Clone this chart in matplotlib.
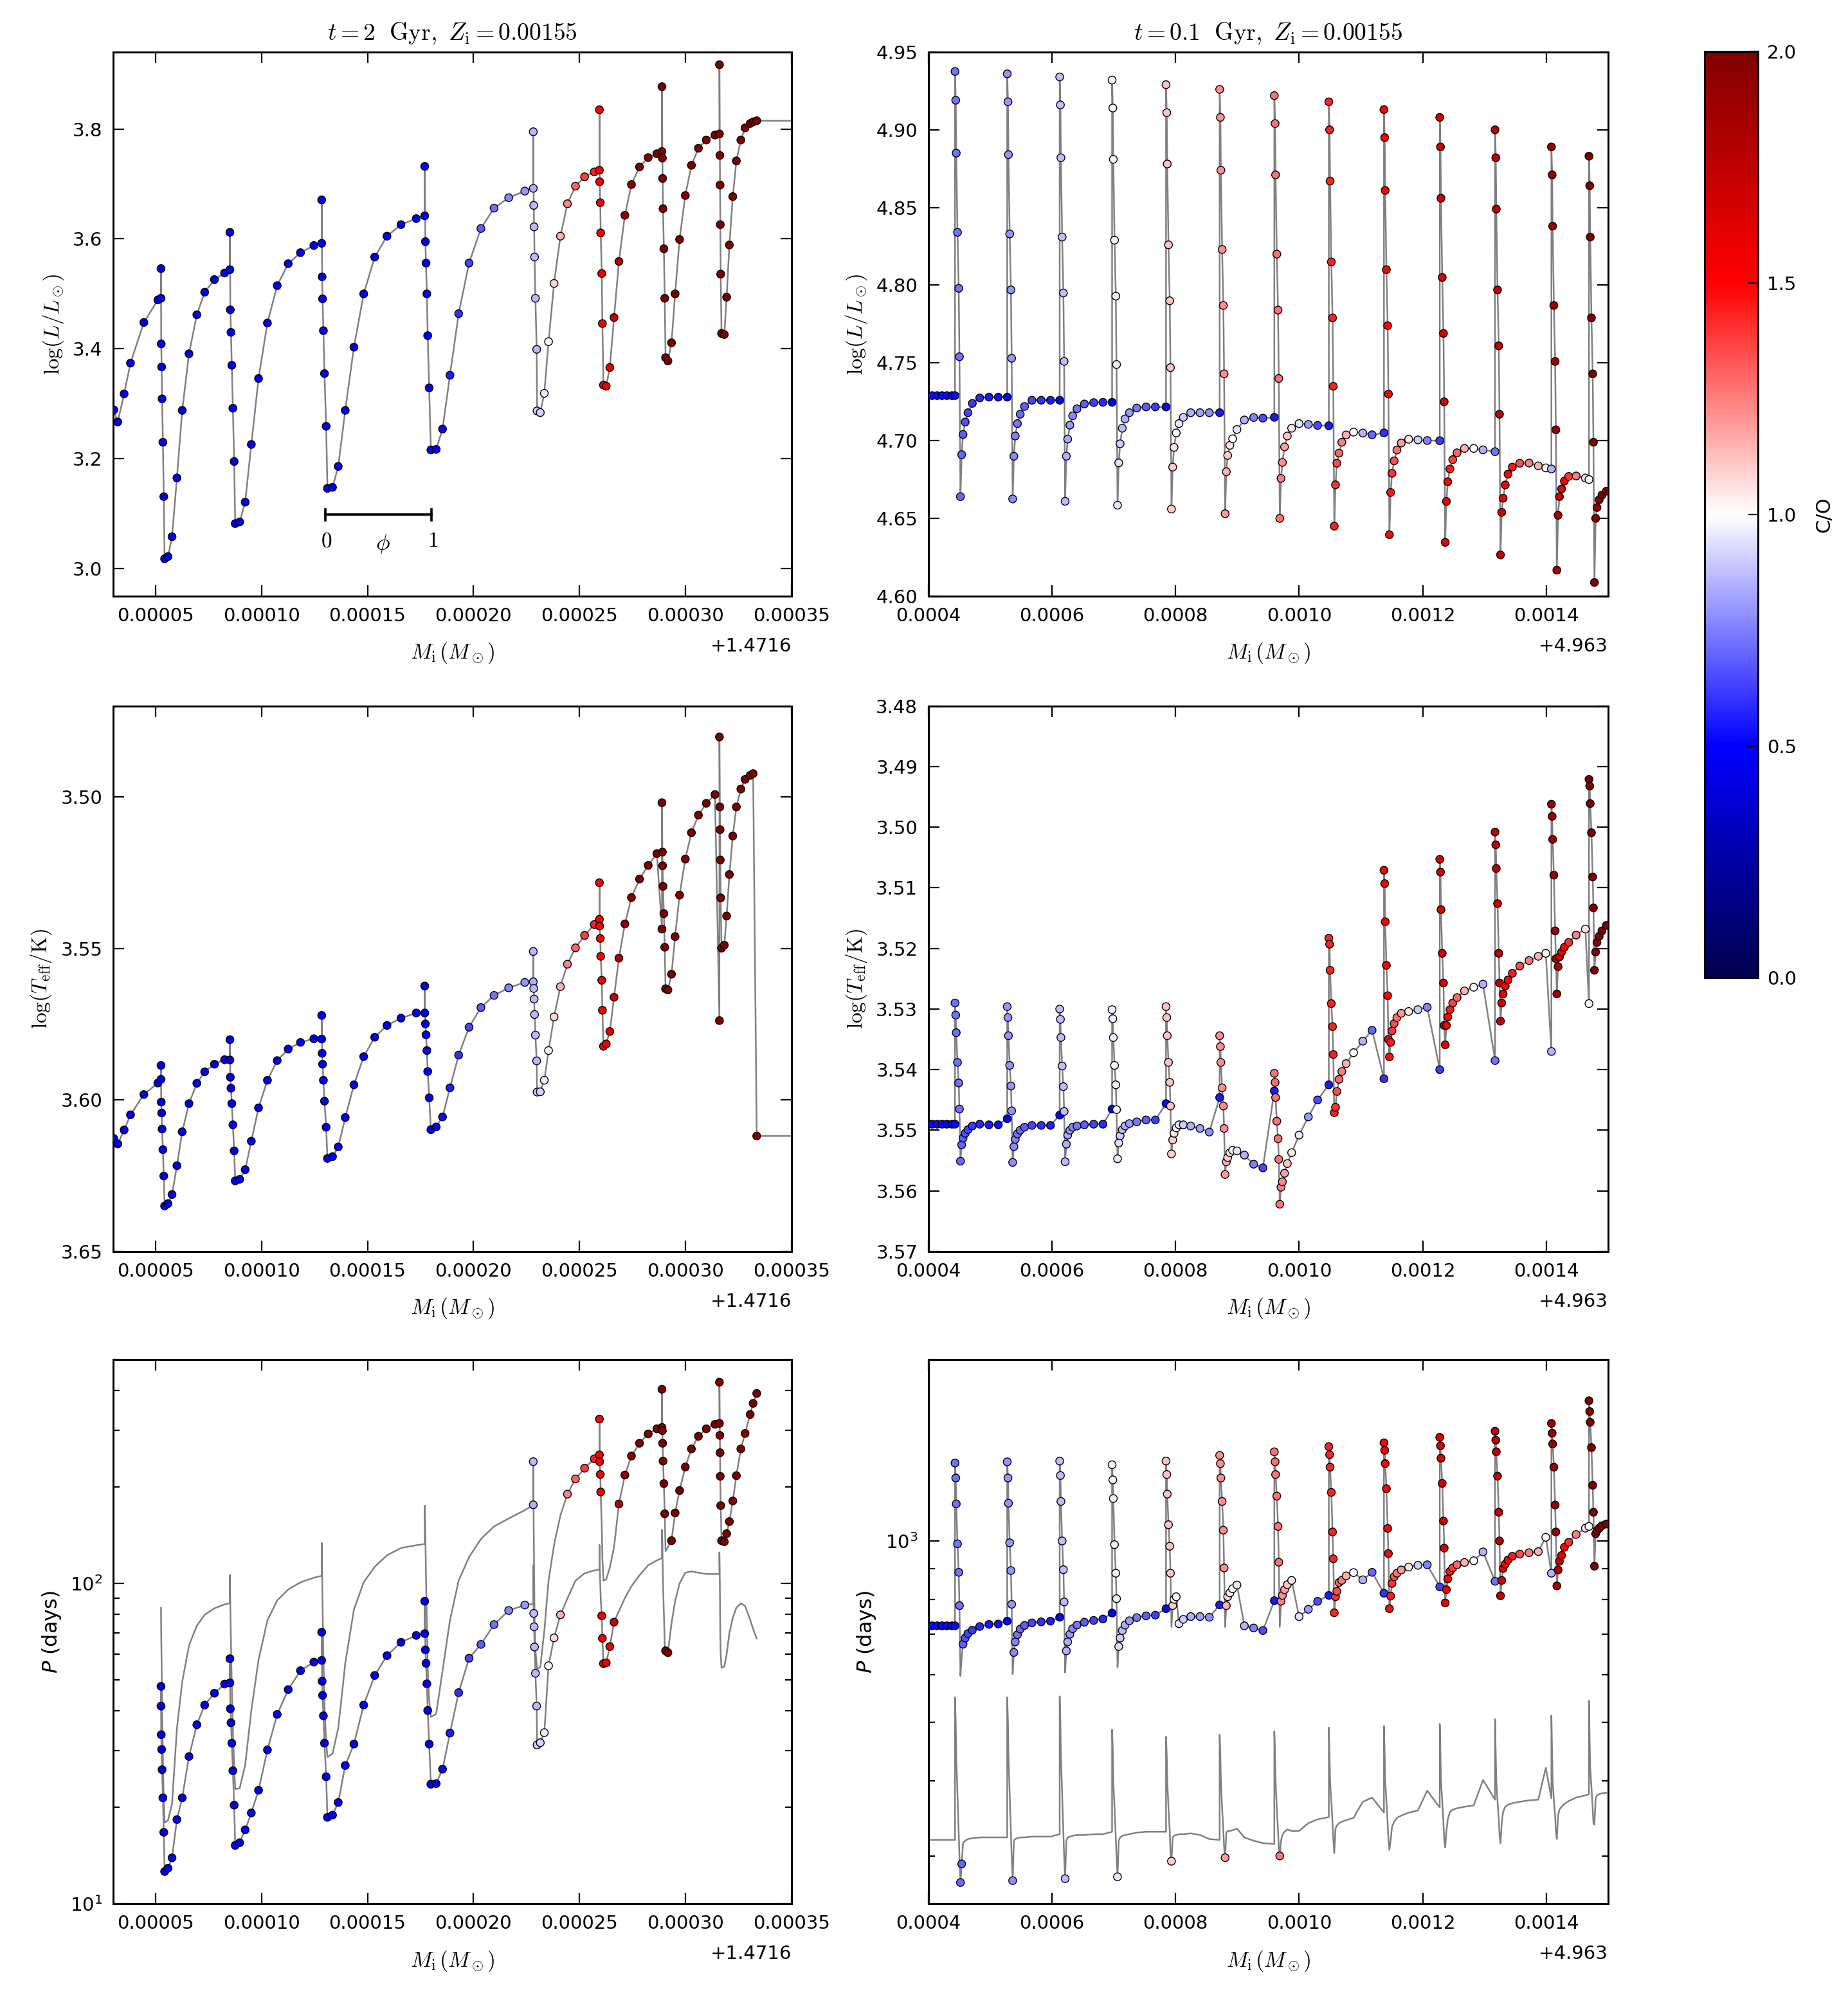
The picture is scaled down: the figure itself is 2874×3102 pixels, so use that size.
import numpy as np
import matplotlib.pyplot as plt
from matplotlib.ticker import FormatStrFormatter, NullFormatter
from matplotlib.cm import ScalarMappable
from matplotlib.colors import Normalize

plt.rcParams['font.family'] = ['DejaVu Sans']
plt.rcParams['mathtext.fontset'] = 'cm'
plt.rcParams['font.size'] = 10.5

# ---------------- left column: t = 2 Gyr, Mi - 1.4716 (units of 1e-5 Msun)
dm_l = [3.03, 3.22, 3.52, 3.82, 4.45, 5.11,
        5.26, 5.26, 5.27, 5.29, 5.31, 5.35, 5.39, 5.43, 5.59, 5.78, 6.01, 6.26, 6.58, 6.95, 7.32, 7.78, 8.26,
        8.51, 8.51, 8.53, 8.56, 8.60, 8.65, 8.71, 8.76, 8.97, 9.23, 9.52, 9.86, 10.28, 10.74, 11.26, 11.84, 12.47,
        12.84, 12.84, 12.86, 12.88, 12.92, 12.97, 13.05, 13.11, 13.35, 13.62, 13.95, 14.36, 14.82, 15.34, 15.92, 16.58, 17.30,
        17.70, 17.70, 17.73, 17.76, 17.80, 17.84, 17.91, 17.99, 18.24, 18.54, 18.89, 19.30, 19.79, 20.35, 20.97, 21.66, 22.42,
        22.82, 22.82, 22.84, 22.86, 22.88, 22.92, 22.98, 23.00, 23.15, 23.34, 23.54, 23.80, 24.10, 24.43, 24.81, 25.24, 25.70,
        25.94, 25.94, 25.95, 25.98, 26.00, 26.05, 26.08, 26.13, 26.26, 26.43, 26.63, 26.86, 27.14, 27.45, 27.83, 28.24, 28.65,
        28.89, 28.89, 28.91, 28.92, 28.94, 28.98, 29.02, 29.06, 29.17, 29.34, 29.51, 29.72, 29.99, 30.28, 30.61, 30.98, 31.39,
        31.60, 31.60, 31.62, 31.63, 31.64, 31.66, 31.70, 31.83, 31.94, 32.07, 32.23, 32.40, 32.61, 32.81, 33.05, 33.19, 33.36, 37.0]

logL_l = [3.289, 3.267, 3.318, 3.374, 3.448, 3.489,
          3.492, 3.546, 3.409, 3.367, 3.309, 3.230, 3.131, 3.018, 3.022, 3.058, 3.165, 3.288, 3.391, 3.462, 3.503, 3.526, 3.538,
          3.544, 3.612, 3.471, 3.430, 3.370, 3.292, 3.195, 3.082, 3.085, 3.121, 3.226, 3.346, 3.447, 3.515, 3.555, 3.575, 3.588,
          3.592, 3.671, 3.531, 3.491, 3.433, 3.355, 3.259, 3.146, 3.148, 3.186, 3.288, 3.403, 3.500, 3.567, 3.605, 3.626, 3.637,
          3.642, 3.732, 3.595, 3.556, 3.500, 3.424, 3.329, 3.216, 3.217, 3.254, 3.352, 3.464, 3.556, 3.619, 3.656, 3.675, 3.687,
          3.692, 3.795, 3.661, 3.622, 3.567, 3.492, 3.399, 3.287, 3.284, 3.319, 3.413, 3.519, 3.605, 3.664, 3.696, 3.713, 3.722,
          3.725, 3.835, 3.704, 3.666, 3.611, 3.537, 3.446, 3.334, 3.332, 3.366, 3.457, 3.559, 3.643, 3.699, 3.731, 3.748, 3.755,
          3.759, 3.877, 3.747, 3.710, 3.655, 3.582, 3.492, 3.384, 3.378, 3.411, 3.500, 3.599, 3.679, 3.734, 3.765, 3.780, 3.789,
          3.791, 3.917, 3.752, 3.698, 3.626, 3.536, 3.428, 3.426, 3.494, 3.589, 3.677, 3.742, 3.780, 3.802, 3.810, 3.813, 3.815, 3.815]

logT_l = [3.6127, 3.6145, 3.6099, 3.6049, 3.5982, 3.5944,
          3.5932, 3.5886, 3.6007, 3.6043, 3.6096, 3.6164, 3.6251, 3.6350, 3.6342, 3.6312, 3.6217, 3.6105, 3.6012, 3.5945, 3.5907, 3.5882, 3.5867,
          3.5868, 3.5801, 3.5925, 3.5961, 3.6012, 3.6082, 3.6168, 3.6267, 3.6262, 3.6230, 3.6136, 3.6026, 3.5935, 3.5870, 3.5832, 3.5810, 3.5798,
          3.5799, 3.5721, 3.5846, 3.5882, 3.5935, 3.6004, 3.6090, 3.6193, 3.6187, 3.6155, 3.6058, 3.5950, 3.5857, 3.5793, 3.5754, 3.5730, 3.5713,
          3.5713, 3.5624, 3.5749, 3.5785, 3.5837, 3.5906, 3.5993, 3.6098, 3.6089, 3.6056, 3.5960, 3.5852, 3.5760, 3.5695, 3.5655, 3.5630, 3.5612,
          3.5610, 3.5510, 3.5632, 3.5667, 3.5718, 3.5786, 3.5871, 3.5974, 3.5973, 3.5935, 3.5837, 3.5726, 3.5626, 3.5552, 3.5498, 3.5457, 3.5421,
          3.5404, 3.5283, 3.5426, 3.5467, 3.5526, 3.5605, 3.5704, 3.5823, 3.5815, 3.5774, 3.5661, 3.5532, 3.5419, 3.5332, 3.5271, 3.5226, 3.5187,
          3.5436, 3.5019, 3.5182, 3.5227, 3.5295, 3.5385, 3.5496, 3.5633, 3.5637, 3.5585, 3.5461, 3.5324, 3.5205, 3.5118, 3.5060, 3.5021, 3.4992,
          3.5738, 3.4802, 3.5033, 3.5108, 3.5208, 3.5333, 3.5499, 3.5489, 3.5393, 3.5256, 3.5129, 3.5033, 3.4974, 3.4942, 3.4929, 3.4923, 3.6119, 3.6119]

nan = float('nan')
# fundamental-mode and first-overtone periods (days)
Pf_l = [nan, nan, nan, nan, nan, nan,
        nan, 84.0, 70, 55, 40, 28, 21, 17.9, 18.2, 20.5, 35.2, 49.3, 64, 73.8, 79.8, 83.6, 86.0,
        86.7, 106.2, 85, 65, 48, 35, 27, 22.8, 22.9, 27.1, 40.1, 57.7, 76.7, 88.5, 95.7, 100.8, 104.2,
        105.6, 133.7, 110, 85, 60, 42, 32, 28.7, 29.4, 35.3, 56.2, 82.9, 100.8, 112.7, 122.4, 129, 131.6,
        132.7, 175, 140, 105, 75, 55, 43, 38.3, 39.1, 53.4, 76.7, 102.1, 120.8, 137.6, 150.7, 159.5, 169.3,
        176, 240, 150, 110, 80, 62, 56, 54.1, 54.8, 71, 102, 132, 163, 190, 212, 229, 245,
        252, 326, 240, 219, 193, 150, 120, 102, 103, 112, 130, 177, 218, 250, 274, 293, 304,
        307, 404, 300, 274, 241, 205, 165, 126, 130, 136, 166, 195, 231, 263, 288, 304, 314,
        316, 425, 290, 256, 216, 175, 136, 135, 143, 156, 181, 217, 263, 294, 337, 365, 392, nan]

Po_l = [nan, nan, nan, nan, nan, nan,
        41.4, 47.7, 33.7, 30.3, 26.2, 21.4, 16.7, 12.6, 12.9, 13.9, 18.3, 21.4, 28.8, 36.2, 41.7, 45.4, 48.5,
        48.9, 58.2, 40.6, 36.7, 31.7, 26.0, 20.3, 15.2, 15.5, 17.0, 19.2, 22.6, 30.2, 39.0, 46.6, 53.4, 56.8,
        57.5, 70.4, 49.5, 44.7, 38.6, 31.7, 24.9, 18.6, 18.9, 20.7, 27.0, 31.5, 41.7, 51.6, 59.5, 65.5, 68.8,
        69.7, 88.0, 62.0, 56.3, 48.6, 40.1, 31.5, 23.6, 23.7, 26.3, 34.1, 45.6, 58.4, 64.5, 74.4, 82.3, 85.6,
        86.2, 114, 80.6, 73.2, 63.3, 52.4, 41.4, 31.3, 31.8, 34.2, 55.3, 67.6, 79.8, 89.7, 102, 107.5, 109.8,
        110.4, 132, 115, 100, 90, 79.2, 67.4, 56.2, 56.5, 63.5, 75.7, 82, 90, 98, 106, 114, 118,
        120, 147, 135, 120, 100, 80, 65, 61.6, 60.8, 75, 88, 100, 108, 109, 108, 107, 107,
        107, 125, 100, 85, 70, 60, 54.5, 55, 60, 70, 78, 84, 86.7, 85, 77, 72, 67.3, nan]

# dominant pulsation mode: f = fundamental, o = first overtone
mode_l = ('ffffff'
          'ooooooooooooooooo'
          'ooooooooooooooooo'
          'ooooooooooooooooo'
          'ooooooooooooooooo'
          'ffoooooooooooffff'
          'fffffooooooffffff'
          'fffffffooffffffff'
          'ffffffffffffffffff')

co_l = [0.44, 0.44, 0.44, 0.44, 0.44, 0.44,
        0.45, 0.45, 0.45, 0.45, 0.45, 0.45, 0.45, 0.45, 0.45, 0.45, 0.45, 0.45, 0.45, 0.45, 0.45, 0.45, 0.45,
        0.46, 0.46, 0.46, 0.46, 0.46, 0.46, 0.46, 0.46, 0.46, 0.46, 0.46, 0.46, 0.46, 0.46, 0.46, 0.46, 0.46,
        0.47, 0.47, 0.47, 0.47, 0.47, 0.47, 0.47, 0.47, 0.47, 0.47, 0.47, 0.47, 0.47, 0.47, 0.47, 0.47, 0.47,
        0.48, 0.48, 0.48, 0.48, 0.48, 0.48, 0.48, 0.48, 0.49, 0.52, 0.56, 0.60, 0.64, 0.68, 0.72, 0.76, 0.79,
        0.84, 0.86, 0.86, 0.86, 0.86, 0.86, 0.86, 0.90, 0.92, 0.96, 1.02, 1.08, 1.16, 1.24, 1.31, 1.38, 1.44,
        1.50, 1.52, 1.52, 1.52, 1.53, 1.54, 1.55, 1.55, 1.56, 1.60, 1.70, 1.80, 1.90, 1.95, 2.00, 2.00, 2.00,
        2.05, 2.05, 2.05, 2.05, 2.05, 2.05, 2.05, 2.05, 2.05, 2.05, 2.05, 2.05, 2.05, 2.05, 2.05, 2.05, 2.05,
        2.05, 2.05, 2.05, 2.05, 2.05, 2.05, 2.05, 2.05, 2.05, 2.05, 2.05, 2.05, 2.05, 2.05, 2.05, 2.05, 2.05, 2.05]

# ---------------- right column: t = 0.1 Gyr, Mi - 4.963 (units of 1e-4 Msun)
dm_r = [3.99, 4.06, 4.14, 4.22, 4.30, 4.38,
        4.430, 4.430, 4.442, 4.450, 4.470, 4.490, 4.502, 4.518, 4.538, 4.560, 4.595, 4.640, 4.710, 4.830, 4.980, 5.130,
        5.275, 5.275, 5.287, 5.295, 5.315, 5.335, 5.347, 5.363, 5.383, 5.405, 5.440, 5.485, 5.555, 5.675, 5.825, 5.975,
        6.124, 6.124, 6.136, 6.144, 6.164, 6.184, 6.196, 6.212, 6.232, 6.254, 6.289, 6.334, 6.404, 6.524, 6.674, 6.824,
        6.972, 6.972, 6.984, 6.992, 7.012, 7.032, 7.044, 7.060, 7.080, 7.102, 7.137, 7.182, 7.252, 7.372, 7.522, 7.672,
        7.845, 7.845, 7.857, 7.865, 7.885, 7.905, 7.917, 7.933, 7.953, 7.975, 8.010, 8.055, 8.125, 8.245, 8.395, 8.545,
        8.713, 8.713, 8.725, 8.733, 8.753, 8.773, 8.785, 8.801, 8.821, 8.843, 8.878, 8.923, 8.993, 9.113, 9.263, 9.413,
        9.598, 9.598, 9.610, 9.618, 9.638, 9.658, 9.670, 9.686, 9.706, 9.728, 9.763, 9.808, 9.878, 9.998, 10.148, 10.298,
        10.480, 10.480, 10.492, 10.500, 10.520, 10.540, 10.552, 10.568, 10.588, 10.610, 10.645, 10.690, 10.760, 10.880, 11.030, 11.180,
        11.372, 11.372, 11.384, 11.392, 11.412, 11.432, 11.444, 11.460, 11.480, 11.502, 11.537, 11.582, 11.652, 11.772, 11.922, 12.072,
        12.275, 12.275, 12.287, 12.295, 12.315, 12.335, 12.347, 12.363, 12.383, 12.405, 12.440, 12.485, 12.555, 12.675, 12.825, 12.975,
        13.170, 13.170, 13.182, 13.190, 13.210, 13.230, 13.242, 13.258, 13.278, 13.300, 13.335, 13.380, 13.450, 13.570, 13.720, 13.870, 13.991,
        14.082, 14.082, 14.094, 14.102, 14.122, 14.142, 14.154, 14.170, 14.190, 14.212, 14.247, 14.292, 14.362, 14.482, 14.632,
        14.690, 14.690, 14.702, 14.710, 14.730, 14.750, 14.762, 14.778, 14.798, 14.820, 14.855, 14.900, 14.970]

logL_r = [4.729, 4.729, 4.729, 4.729, 4.729, 4.729,
          4.729, 4.9375, 4.919, 4.885, 4.834, 4.798, 4.754, 4.664, 4.691, 4.704, 4.712, 4.718, 4.724, 4.7275, 4.728, 4.728,
          4.728, 4.936, 4.918, 4.884, 4.833, 4.797, 4.753, 4.6625, 4.690, 4.703, 4.711, 4.717, 4.722, 4.726, 4.726, 4.726,
          4.726, 4.934, 4.916, 4.882, 4.831, 4.795, 4.751, 4.661, 4.690, 4.701, 4.710, 4.716, 4.7205, 4.7236, 4.7245, 4.7247,
          4.7247, 4.932, 4.914, 4.881, 4.829, 4.793, 4.749, 4.6585, 4.6857, 4.698, 4.708, 4.714, 4.718, 4.721, 4.7217, 4.7217,
          4.7217, 4.929, 4.911, 4.878, 4.826, 4.790, 4.747, 4.656, 4.683, 4.6957, 4.705, 4.711, 4.715, 4.718, 4.718, 4.718,
          4.718, 4.926, 4.908, 4.874, 4.823, 4.787, 4.743, 4.653, 4.680, 4.6905, 4.697, 4.7012, 4.7072, 4.7133, 4.7149, 4.7145,
          4.715, 4.922, 4.904, 4.871, 4.820, 4.784, 4.740, 4.650, 4.6757, 4.686, 4.696, 4.703, 4.708, 4.711, 4.7105, 4.7098,
          4.7096, 4.918, 4.900, 4.867, 4.815, 4.779, 4.735, 4.645, 4.6716, 4.6855, 4.692, 4.699, 4.7037, 4.7055, 4.7049, 4.7038,
          4.705, 4.913, 4.895, 4.861, 4.810, 4.774, 4.730, 4.6395, 4.6667, 4.679, 4.687, 4.694, 4.6985, 4.7009, 4.7005, 4.7001,
          4.700, 4.908, 4.889, 4.856, 4.805, 4.769, 4.725, 4.6346, 4.6609, 4.6736, 4.6818, 4.6878, 4.6922, 4.6950, 4.6950, 4.6941,
          4.6929, 4.900, 4.882, 4.849, 4.797, 4.761, 4.717, 4.6265, 4.6539, 4.6630, 4.6715, 4.6785, 4.6830, 4.6855, 4.6856, 4.6838, 4.6825,
          4.6818, 4.889, 4.871, 4.838, 4.787, 4.751, 4.707, 4.6167, 4.6520, 4.6640, 4.6690, 4.6740, 4.6770, 4.6773, 4.6760,
          4.675, 4.883, 4.864, 4.831, 4.779, 4.743, 4.699, 4.6088, 4.6500, 4.6570, 4.6620, 4.6650, 4.6675]

logT_r = [3.5490, 3.5490, 3.5490, 3.5490, 3.5490, 3.5490,
          3.5490, 3.5290, 3.5310, 3.5339, 3.5388, 3.5422, 3.5465, 3.5551, 3.5524, 3.5513, 3.5505, 3.5499, 3.5493, 3.5490, 3.5491, 3.5491,
          3.5481, 3.5296, 3.5314, 3.5344, 3.5393, 3.5427, 3.5468, 3.5553, 3.5527, 3.5515, 3.5506, 3.5500, 3.5495, 3.5492, 3.5492, 3.5492,
          3.5475, 3.5300, 3.5317, 3.5347, 3.5394, 3.5428, 3.5469, 3.5552, 3.5523, 3.5508, 3.5500, 3.5495, 3.5493, 3.5491, 3.5490, 3.5490,
          3.5465, 3.5301, 3.5316, 3.5347, 3.5393, 3.5425, 3.5466, 3.5547, 3.5521, 3.5509, 3.5499, 3.5493, 3.5489, 3.5486, 3.5483, 3.5483,
          3.5456, 3.5296, 3.5314, 3.5344, 3.5388, 3.5421, 3.5460, 3.5539, 3.5516, 3.5505, 3.5496, 3.5491, 3.5491, 3.5493, 3.5497, 3.5503,
          3.5446, 3.5344, 3.5362, 3.5388, 3.5430, 3.5460, 3.5497, 3.5573, 3.5552, 3.5545, 3.5537, 3.5533, 3.5534, 3.5541, 3.5556, 3.5562,
          3.5435, 3.5406, 3.5421, 3.5446, 3.5485, 3.5514, 3.5548, 3.5622, 3.5594, 3.5585, 3.5571, 3.5555, 3.5537, 3.5508, 3.5478, 3.5450,
          3.5425, 3.5183, 3.5193, 3.5236, 3.5291, 3.5329, 3.5375, 3.5471, 3.5462, 3.5436, 3.5416, 3.5403, 3.5390, 3.5372, 3.5353, 3.5335,
          3.5415, 3.5071, 3.5093, 3.5156, 3.5228, 3.5278, 3.5350, 3.5379, 3.5355, 3.5336, 3.5324, 3.5314, 3.5307, 3.5304, 3.5301, 3.5297,
          3.5400, 3.5053, 3.5074, 3.5136, 3.5208, 3.5257, 3.5327, 3.5359, 3.5327, 3.5313, 3.5301, 3.5290, 3.5281, 3.5270, 3.5264, 3.5259,
          3.5385, 3.5008, 3.5029, 3.5068, 3.5126, 3.5208, 3.5257, 3.5320, 3.5290, 3.5275, 3.5262, 3.5252, 3.5241, 3.5229, 3.5220, 3.5213, 3.5208,
          3.5370, 3.4962, 3.4982, 3.5020, 3.5079, 3.5171, 3.5217, 3.5275, 3.5230, 3.5214, 3.5206, 3.5198, 3.5190, 3.5178, 3.5168,
          3.5291, 3.4921, 3.4932, 3.4961, 3.5009, 3.5082, 3.5133, 3.5236, 3.5206, 3.5190, 3.5180, 3.5171, 3.5162]

Pf_r = [723, 723, 723, 723, 723, 723,
        723, 1347, 1272, 1152, 989, 887, 781, 597, 640, 674, 690, 702, 711, 721, 727, 728,
        736, 1353, 1272, 1155, 993, 893, 785, 601, 653, 680, 699, 714, 724, 731, 734, 736,
        747, 1357, 1284, 1163, 1000, 896, 792, 605, 657, 680, 700, 715, 725, 733, 738, 742,
        759, 1338, 1263, 1176, 986, 884, 802, 617, 668, 690, 710, 725, 737, 746, 751, 753,
        772, 1357, 1289, 1196, 1064, 980, 884, 720, 781, 800, 808, 729, 741, 749, 749, 747,
        783, 1387, 1344, 1272, 1163, 1042, 902, 720, 781, 808, 820, 833, 845, 723, 717, 710,
        796, 1406, 1353, 1289, 1187, 1057, 922, 720, 794, 812, 830, 846, 860, 749, 770, 794,
        812, 1434, 1391, 1326, 1204, 1035, 934, 760, 808, 825, 853, 860, 875, 886, 862, 887,
        819, 1455, 1414, 1344, 1221, 1049, 953, 772, 810, 850, 872, 884, 895, 905, 911, 913,
        839, 1486, 1439, 1372, 1246, 1079, 973, 789, 830, 865, 890, 902, 913, 921, 927, 959,
        857, 1521, 1470, 1406, 1281, 1116, 1000, 811, 860, 900, 915, 930, 943, 951, 956, 960, 1014,
        884, 1567, 1510, 1449, 1326, 1147, 1035, 842, 895, 925, 946, 976, 995, 1025, 1050,
        1057, 1709, 1640, 1574, 1429, 1237, 1116, 908, 1028, 1040, 1050, 1060, 1067]

Po_r = [319, 319, 319, 319, 319, 319,
        319, 550, 500, 440, 380, 330, 300, 271, 291, 315, 318, 320, 321, 322, 322, 322,
        322, 550, 500, 440, 380, 330, 300, 273, 318, 320, 321, 322, 322, 323, 323, 323,
        326, 552, 500, 440, 380, 330, 300, 275, 318, 322, 323, 324, 325, 325, 326, 326,
        329, 486, 450, 400, 360, 320, 300, 277, 318, 322, 324, 325, 326, 328, 329, 329,
        329, 473, 440, 400, 360, 330, 305, 294, 322, 324, 325, 326, 326, 327, 325, 320,
        319, 477, 440, 400, 360, 330, 310, 298, 328, 330, 330, 331, 333, 322, 318, 315,
        314, 483, 440, 400, 360, 330, 310, 300, 318, 325, 329, 332, 330, 330, 340, 345,
        348, 490, 440, 400, 370, 340, 320, 303, 333, 337, 340, 342, 344, 347, 369, 375,
        354, 493, 440, 400, 370, 340, 320, 307, 318, 335, 342, 347, 350, 354, 357, 385,
        361, 497, 440, 400, 370, 340, 320, 310, 330, 345, 355, 358, 360, 362, 364, 401,
        372, 506, 440, 400, 370, 345, 325, 315, 340, 355, 362, 365, 367, 369, 371, 372, 420,
        374, 513, 440, 400, 370, 350, 330, 320, 350, 358, 362, 366, 370, 375, 378,
        380, 543, 460, 420, 390, 360, 340, 338, 374, 378, 380, 381, 382]

mode_r = ('ffffff'
          'fffffffoofffffff'
          'fffffffoffffffff'
          'fffffffoffffffff'
          'fffffffoffffffff'
          'fffffffoffffffff'
          'fffffffoffffffff'
          'fffffffoffffffff'
          'ffffffffffffffff'
          'ffffffffffffffff'
          'ffffffffffffffff'
          'fffffffffffffffff'
          'fffffffffffffff'
          'fffffffffffff')

co_r = [0.52, 0.52, 0.52, 0.52, 0.52, 0.52,
        0.52, 0.72, 0.72, 0.72, 0.72, 0.72, 0.72, 0.71, 0.70, 0.68, 0.66, 0.64, 0.61, 0.58, 0.55, 0.53,
        0.50, 0.79, 0.79, 0.79, 0.79, 0.79, 0.79, 0.78, 0.77, 0.75, 0.73, 0.71, 0.68, 0.64, 0.60, 0.56,
        0.50, 0.87, 0.87, 0.87, 0.87, 0.87, 0.87, 0.86, 0.85, 0.83, 0.80, 0.77, 0.73, 0.68, 0.63, 0.58,
        0.50, 0.97, 0.97, 0.97, 0.97, 0.97, 0.97, 0.95, 0.93, 0.90, 0.87, 0.84, 0.80, 0.74, 0.68, 0.62,
        0.52, 1.12, 1.12, 1.12, 1.12, 1.12, 1.12, 1.10, 1.10, 1.05, 1.00, 0.95, 0.90, 0.85, 0.82, 0.78,
        0.55, 1.22, 1.22, 1.22, 1.22, 1.22, 1.22, 1.20, 1.15, 1.10, 1.05, 1.00, 0.95, 0.85, 0.75, 0.65,
        0.55, 1.28, 1.28, 1.28, 1.28, 1.28, 1.28, 1.28, 1.25, 1.22, 1.18, 1.12, 1.05, 0.95, 0.80, 0.65,
        0.55, 1.43, 1.43, 1.43, 1.43, 1.43, 1.43, 1.43, 1.40, 1.35, 1.30, 1.25, 1.15, 1.00, 0.85, 0.70,
        0.60, 1.50, 1.50, 1.50, 1.50, 1.50, 1.50, 1.48, 1.45, 1.40, 1.35, 1.28, 1.20, 1.05, 0.90, 0.75,
        0.62, 1.65, 1.65, 1.65, 1.65, 1.65, 1.65, 1.60, 1.55, 1.50, 1.45, 1.38, 1.30, 1.15, 1.00, 0.85,
        0.72, 1.75, 1.75, 1.75, 1.75, 1.75, 1.75, 1.72, 1.65, 1.60, 1.55, 1.50, 1.45, 1.35, 1.25, 1.15, 1.00,
        0.85, 1.88, 1.88, 1.88, 1.88, 1.88, 1.88, 1.85, 1.80, 1.70, 1.60, 1.50, 1.40, 1.25, 1.05,
        1.00, 2.00, 2.00, 2.00, 2.00, 2.00, 2.00, 1.97, 1.95, 1.95, 1.97, 2.00, 2.00]

for arr in (logL_l, logT_l, Pf_l, Po_l, mode_l, co_l):
    assert len(arr) == len(dm_l), len(arr)
for arr in (logL_r, logT_r, Pf_r, Po_r, mode_r, co_r):
    assert len(arr) == len(dm_r), len(arr)

x_l = np.array(dm_l) * 1e-5
x_r = np.array(dm_r) * 1e-4
P_l = np.where(np.array(list(mode_l)) == 'o', Po_l, Pf_l)
P_r = np.where(np.array(list(mode_r)) == 'o', Po_r, Pf_r)

fig = plt.figure(figsize=(14.37, 15.51), dpi=200)

cols = [0.0612, 0.5024]
widths = [0.3671, 0.3678]
rows = [(0.7012, 0.2727), (0.3727, 0.2734), (0.0458, 0.2727)]

axes = [[fig.add_axes([cols[c], rows[r][0], widths[c], rows[r][1]]) for c in range(2)] for r in range(3)]

LINE = dict(color='0.5', lw=0.9, zorder=2)
DOTS = dict(cmap='seismic', vmin=0, vmax=2, s=19, edgecolors='k', linewidths=0.5, zorder=3)


def style(ax):
    ax.tick_params(which='both', direction='in', top=True, right=True,
                   labelsize=10.5, pad=6, width=0.8)
    ax.tick_params(which='major', length=6)
    ax.tick_params(which='minor', length=3.5)
    for s in ax.spines.values():
        s.set_linewidth(1.1)


# luminosity
for c, (x, y, co) in enumerate([(x_l, logL_l, co_l), (x_r, logL_r, co_r)]):
    ax = axes[0][c]
    ax.plot(x, y, **LINE)
    ax.scatter(x, y, c=co, **DOTS)
    ax.set_ylabel(r'$\log(L/L_\odot)$', fontsize=12)

# effective temperature
for c, (x, y, co) in enumerate([(x_l, logT_l, co_l), (x_r, logT_r, co_r)]):
    ax = axes[1][c]
    ax.plot(x, y, **LINE)
    ax.scatter(x, y, c=co, **DOTS)
    ax.set_ylabel(r'$\log(T_{\rm eff}/{\rm K})$', fontsize=12)

# periods
for c, (x, pf, po, pd, co) in enumerate([(x_l, Pf_l, Po_l, P_l, co_l), (x_r, Pf_r, Po_r, P_r, co_r)]):
    ax = axes[2][c]
    ax.plot(x, pf, **LINE)
    ax.plot(x, po, **LINE)
    ax.scatter(x, pd, c=co, **DOTS)
    ax.set_yscale('log')
    ax.yaxis.set_minor_formatter(NullFormatter())
    yl = ax.set_ylabel(r'$P$ (days)', fontsize=11.5)
    yl.set_math_fontfamily('dejavusans')

# limits and ticks
for r in range(3):
    axl, axr = axes[r]
    axl.set_xlim(0.00003, 0.00035)
    axl.set_xticks([0.00005, 0.00010, 0.00015, 0.00020, 0.00025, 0.00030, 0.00035])
    axl.xaxis.set_major_formatter(FormatStrFormatter('%.5f'))
    axr.set_xlim(0.0004, 0.0015)
    axr.set_xticks([0.0004, 0.0006, 0.0008, 0.0010, 0.0012, 0.0014])
    axr.xaxis.set_major_formatter(FormatStrFormatter('%.4f'))
    for ax, off in ((axl, '+1.4716'), (axr, '+4.963')):
        style(ax)
        ax.set_xlabel(r'$M_{\rm i}\,(M_\odot)$', fontsize=12, labelpad=9)
        ax.text(1.0, -0.092, off, transform=ax.transAxes, ha='right', va='center', fontsize=10.5)

axes[0][0].set_ylim(2.95, 3.94)
axes[0][0].set_yticks([3.0, 3.2, 3.4, 3.6, 3.8])
axes[0][0].yaxis.set_major_formatter(FormatStrFormatter('%.1f'))
axes[0][1].set_ylim(4.60, 4.95)
axes[0][1].set_yticks([4.60, 4.65, 4.70, 4.75, 4.80, 4.85, 4.90, 4.95])
axes[0][1].yaxis.set_major_formatter(FormatStrFormatter('%.2f'))
axes[1][0].set_ylim(3.65, 3.47)
axes[1][0].set_yticks([3.50, 3.55, 3.60, 3.65])
axes[1][0].yaxis.set_major_formatter(FormatStrFormatter('%.2f'))
axes[1][1].set_ylim(3.57, 3.48)
axes[1][1].set_yticks([3.48, 3.49, 3.50, 3.51, 3.52, 3.53, 3.54, 3.55, 3.56, 3.57])
axes[1][1].yaxis.set_major_formatter(FormatStrFormatter('%.2f'))
axes[2][0].set_ylim(10, 500)
axes[2][1].set_ylim(250, 2000)

axes[0][0].set_title(r'$t=2\ \ {\rm Gyr},\ Z_{\rm i}=0.00155$', fontsize=13.5, pad=7)
axes[0][1].set_title(r'$t=0.1\ \ {\rm Gyr},\ Z_{\rm i}=0.00155$', fontsize=13.5, pad=7)

# interpulse phase bar
ax = axes[0][0]
ph0, ph1, phy = 13.0e-5, 18.03e-5, 3.098
ax.plot([ph0, ph1], [phy, phy], color='k', lw=1.3, zorder=4)
ax.plot([ph0, ph0], [phy - 0.01, phy + 0.01], color='k', lw=1.3, zorder=4)
ax.plot([ph1, ph1], [phy - 0.01, phy + 0.01], color='k', lw=1.3, zorder=4)
ax.text(ph0 + 0.05e-5, phy - 0.028, r'$0$', ha='center', va='top', fontsize=12)
ax.text(ph1 + 0.05e-5, phy - 0.028, r'$1$', ha='center', va='top', fontsize=12)
ax.text(0.5 * (ph0 + ph1) + 0.2e-5, phy - 0.032, r'$\phi$', ha='center', va='top', fontsize=13)

# colour bar
cax = fig.add_axes([0.9224, 0.5100, 0.0289, 0.4642])
cb = fig.colorbar(ScalarMappable(norm=Normalize(0, 2), cmap='seismic'), cax=cax,
                  ticks=[0.0, 0.5, 1.0, 1.5, 2.0], format='%.1f')
cb.outline.set_linewidth(1.1)
cax.tick_params(direction='in', length=5.5, width=0.8, labelsize=10.5, pad=5)
cb.set_label('C/O', fontsize=11, labelpad=10)

fig.savefig('out.png', dpi=200)
